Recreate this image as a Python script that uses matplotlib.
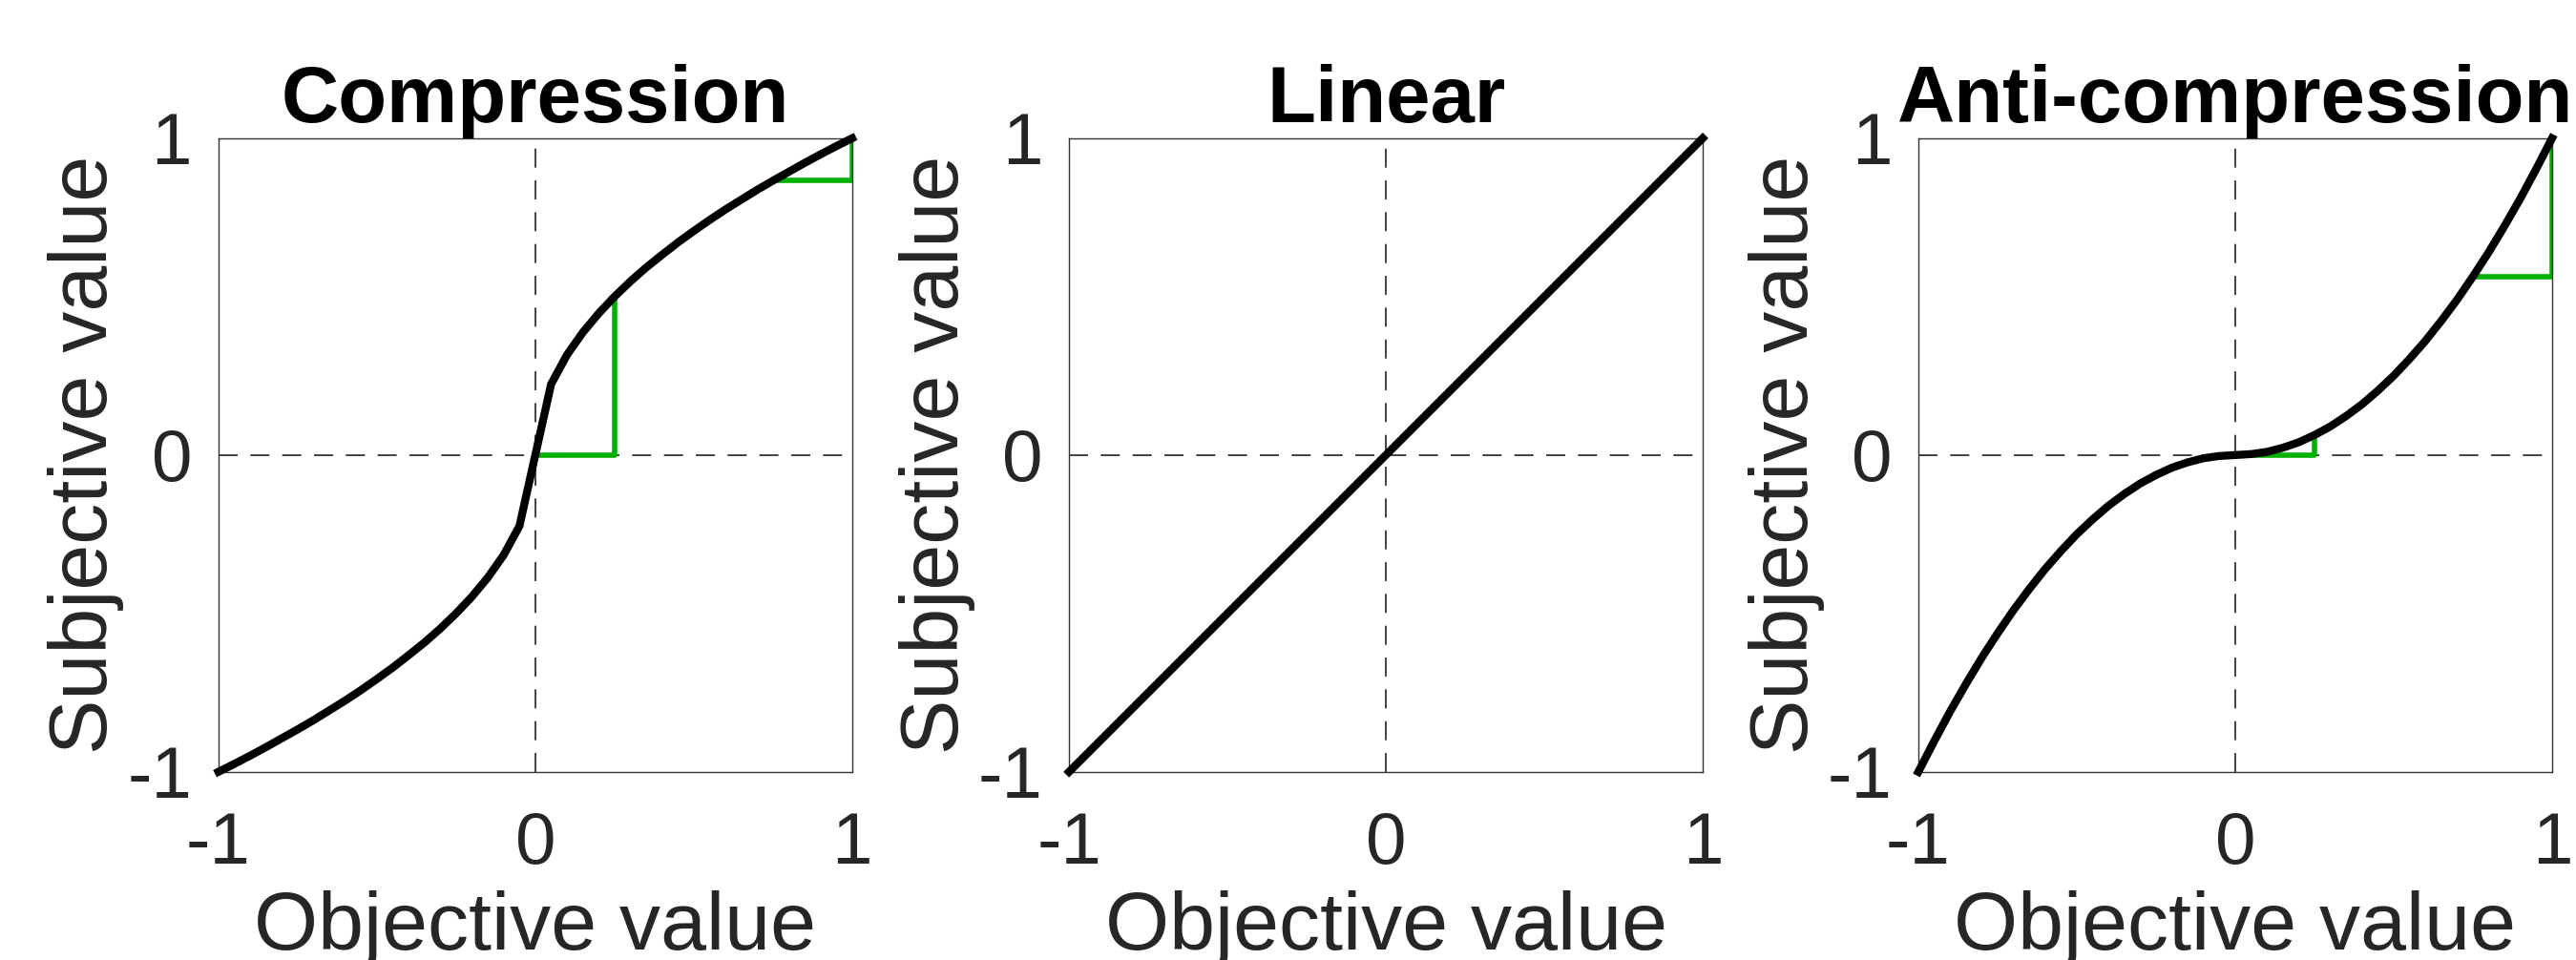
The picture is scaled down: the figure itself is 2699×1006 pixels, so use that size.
import matplotlib.pyplot as plt

plt.rcParams['font.family'] = ['Liberation Sans', 'DejaVu Sans']

# Objectieve waarden (x), stap 0.05
obj = [-1.00, -0.95, -0.90, -0.85, -0.80, -0.75, -0.70, -0.65, -0.60, -0.55,
       -0.50, -0.45, -0.40, -0.35, -0.30, -0.25, -0.20, -0.15, -0.10, -0.05,
       0.00, 0.05, 0.10, 0.15, 0.20, 0.25, 0.30, 0.35, 0.40, 0.45,
       0.50, 0.55, 0.60, 0.65, 0.70, 0.75, 0.80, 0.85, 0.90, 0.95, 1.00]

# Subjectieve waarden
compression = [-1.000, -0.975, -0.949, -0.922, -0.894, -0.866, -0.837, -0.806, -0.775, -0.742,
               -0.707, -0.671, -0.632, -0.592, -0.548, -0.500, -0.447, -0.387, -0.316, -0.224,
               0.000, 0.224, 0.316, 0.387, 0.447, 0.500, 0.548, 0.592, 0.632, 0.671,
               0.707, 0.742, 0.775, 0.806, 0.837, 0.866, 0.894, 0.922, 0.949, 0.975, 1.000]
linear = [-1.0, 1.0]
linear_x = [-1.0, 1.0]
anti = [-1.000, -0.903, -0.810, -0.723, -0.640, -0.563, -0.490, -0.423, -0.360, -0.303,
        -0.250, -0.203, -0.160, -0.123, -0.090, -0.063, -0.040, -0.023, -0.010, -0.003,
        0.000, 0.003, 0.010, 0.023, 0.040, 0.063, 0.090, 0.123, 0.160, 0.203,
        0.250, 0.303, 0.360, 0.423, 0.490, 0.563, 0.640, 0.723, 0.810, 0.903, 1.000]

# Groene driehoekjes (x, y)
comp_tri_x = [[0.0, 0.25, 0.25], [0.75, 1.0, 1.0]]
comp_tri_y = [[0.0, 0.0, 0.5], [0.866, 0.866, 1.0]]
anti_tri_x = [[0.0, 0.25, 0.25], [0.75, 1.0, 1.0]]
anti_tri_y = [[0.0, 0.0, 0.0625], [0.5625, 0.5625, 1.0]]

titles = ['Compression', 'Linear', 'Anti-compression']
ticks = [-1, 0, 1]
tick_labels = ['-1', '0', '1']

fig = plt.figure(figsize=(26.99, 10.06), dpi=100)
lefts = [0.0848, 0.415, 0.7447]
panels = [(obj, compression, comp_tri_x, comp_tri_y),
          (linear_x, linear, [], []),
          (obj, anti, anti_tri_x, anti_tri_y)]

for left, title, (xs, ys, tx, ty) in zip(lefts, titles, panels):
    ax = fig.add_axes([left, 0.196, 0.246, 0.66])
    ax.axhline(0, color='#222222', lw=1.2, dashes=(12, 8), zorder=1)
    ax.axvline(0, color='#222222', lw=1.2, dashes=(12, 8), zorder=1)
    for a, b in zip(tx, ty):
        ax.plot(a, b, color='#00b000', lw=4, zorder=2, solid_capstyle='butt')
    ax.plot(xs, ys, color='black', lw=6, zorder=3, clip_on=False)
    ax.set_xlim(-1, 1)
    ax.set_ylim(-1, 1)
    ax.set_xticks(ticks)
    ax.set_xticklabels(tick_labels)
    ax.set_yticks(ticks)
    ax.set_yticklabels(tick_labels)
    ax.tick_params(length=0, labelsize=55, labelcolor='#262626')
    ax.tick_params(axis='x', pad=30)
    ax.tick_params(axis='y', pad=20)
    for s in ax.spines.values():
        s.set_color('#333333')
        s.set_linewidth(1.0)
    ax.set_title(title, fontsize=60, fontweight='bold', pad=10)
    ax.set_xlabel('Objective value', fontsize=62, color='#262626', labelpad=8)
    ax.set_ylabel('Subjective value', fontsize=62, color='#262626', labelpad=2)

plt.savefig('out.png', dpi=100)
